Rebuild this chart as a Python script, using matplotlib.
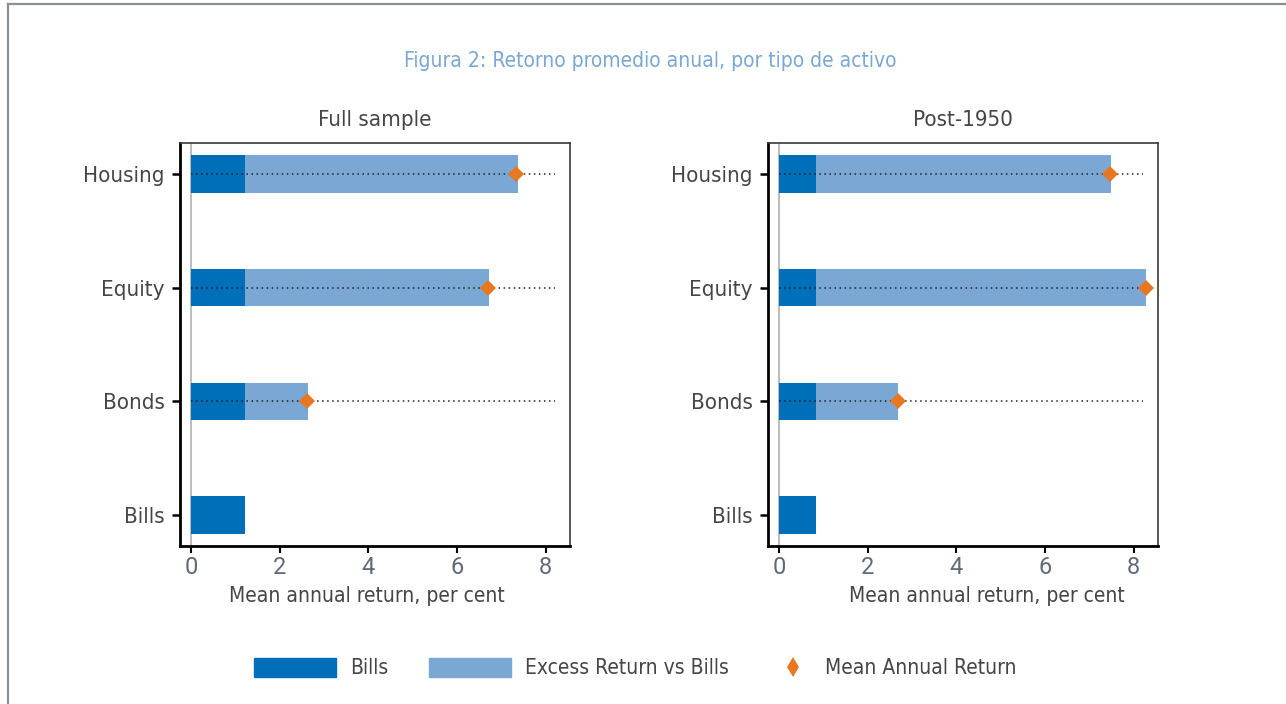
import matplotlib
matplotlib.use('Agg')
import matplotlib.pyplot as plt
from matplotlib.patches import Patch
from matplotlib.lines import Line2D

# data
assets = ['Bills', 'Bonds', 'Equity', 'Housing']
full_bills = [1.22, 1.22, 1.22, 1.22]
full_excess = [0.0, 1.42, 5.51, 6.15]
full_mean = [None, 2.62, 6.70, 7.33]
post_bills = [0.84, 0.84, 0.84, 0.84]
post_excess = [0.0, 1.85, 7.45, 6.64]
post_mean = [None, 2.68, 8.29, 7.46]
panel_titles = ['Full sample', 'Post-1950']
xticks = [0, 2, 4, 6, 8]

dark_blue = '#006FB9'
light_blue = '#7BA7D4'
orange = '#E87722'
text_grey = '#454545'
tick_grey = '#5F6A78'

# condensed face for most text
cond = {'family': 'DejaVu Sans', 'stretch': 'condensed'}

fig = plt.figure(figsize=(12.86, 7.04), dpi=100)

# outer frame (left and top edges only are visible)
fig.add_artist(Line2D([8 / 1286, 8 / 1286], [0, 1 - 4 / 704], transform=fig.transFigure,
                      color='#8C9198', lw=1.6))
fig.add_artist(Line2D([8 / 1286, 1], [1 - 4 / 704, 1 - 4 / 704], transform=fig.transFigure,
                      color='#8C9198', lw=1.6))

fig.text(650 / 1286, 1 - 61 / 704, 'Figura 2: Retorno promedio anual, por tipo de activo',
         ha='center', va='center', color=light_blue, fontsize=15, **cond)

panels = [
    ([180, 570], full_bills, full_excess, full_mean, 0.48),
    ([768, 1158], post_bills, post_excess, post_mean, 0.56),
]

y = list(range(len(assets)))
for i, (xr, bills, excess, mean, xlab_x) in enumerate(panels):
    ax = fig.add_axes([xr[0] / 1286, 1 - 546 / 704, (xr[1] - xr[0]) / 1286, 403 / 704])
    ax.barh(y, bills, height=0.33, color=dark_blue, zorder=2)
    ax.barh(y, excess, left=bills, height=0.33, color=light_blue, zorder=2)
    ax.axvline(0, color='#BDBDBD', lw=1.5, zorder=1)
    for yy, m in zip(y, mean):
        if m is None:
            continue
        ax.plot([0, 8.22], [yy, yy], color='#222222', lw=1.1, linestyle=(0, (1, 2.3)), zorder=3)
        ax.plot([m], [yy], marker='D', color=orange, markersize=8, markeredgewidth=0,
                linestyle='none', zorder=4)
    ax.set_xlim(-0.25, 8.55)
    ax.set_ylim(-0.27, 3.27)
    ax.set_yticks(y)
    ax.set_yticklabels(assets, fontsize=16, color=text_grey, **cond)
    ax.set_xticks(xticks)
    ax.set_xticklabels([str(t) for t in xticks], family=['Roboto', 'DejaVu Sans'],
                       fontsize=17, color=tick_grey)
    ax.tick_params(axis='y', length=6, width=1.8, pad=5, color='black')
    ax.tick_params(axis='x', length=5, width=1.5, pad=2, color='black')
    for s in ['left', 'bottom']:
        ax.spines[s].set_linewidth(2)
        ax.spines[s].set_color('black')
    for s in ['top', 'right']:
        ax.spines[s].set_linewidth(1.2)
        ax.spines[s].set_color('#3A3A3A')
    ax.set_title(panel_titles[i], fontsize=16, color=text_grey, pad=12, **cond)
    ax.set_xlabel('Mean annual return, per cent', fontsize=15, color=text_grey, **cond)
    ax.xaxis.set_label_coords(xlab_x, -0.1)

# legend: patches and marker as two pieces so the marker handle stays short
legend_font = {'family': 'DejaVu Sans', 'stretch': 'condensed', 'size': 15}
h1 = [Patch(color=dark_blue, label='Bills'), Patch(color=light_blue, label='Excess Return vs Bills')]
fig.legend(handles=h1, loc='center left', bbox_to_anchor=(254 / 1286, 1 - 668 / 704),
           ncol=2, frameon=False, prop=legend_font,
           handlelength=3.95, handleheight=1.05, handletextpad=0.65, columnspacing=1.95,
           labelcolor=text_grey, borderpad=0, borderaxespad=0)
h2 = [Line2D([], [], marker='d', color=orange, markersize=10, markeredgewidth=0,
             linestyle='none', label='Mean Annual Return')]
fig.legend(handles=h2, loc='center left', bbox_to_anchor=(785 / 1286, 1 - 668 / 704),
           frameon=False, prop=legend_font, handlelength=0.8,
           handletextpad=1.1, labelcolor=text_grey, borderpad=0, borderaxespad=0)

fig.savefig('out.png', dpi=100)
